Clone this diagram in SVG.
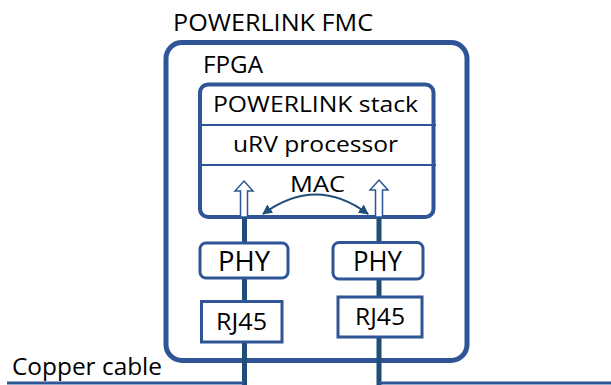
<svg xmlns="http://www.w3.org/2000/svg" width="611" height="385" viewBox="0 0 611 385">
<defs>
<style>
.t{font-family:"Open Sans","Liberation Sans",sans-serif;fill:#000}
.box{fill:#fff;stroke:#2F5597}
.wire{stroke:#1F4E79;stroke-width:5;fill:none}
.cable{stroke:#2F5597;stroke-width:3;fill:none}
.blk{fill:#fff;stroke:#2F5597;stroke-width:1.5}
</style>
<marker id="ah" viewBox="0 0 10 10" refX="9" refY="5" markerWidth="10" markerHeight="10" markerUnits="userSpaceOnUse" orient="auto-start-reverse">
<path d="M0,0 L10,5 L0,10 Z" fill="#1F4E79"/>
</marker>
</defs>
<rect width="611" height="385" fill="#fff"/>
<g id="fmc">
<rect class="box" x="166" y="42.5" width="301" height="318" rx="16" stroke-width="5"/>
<text class="t" x="173" y="31" font-size="23" textLength="200" lengthAdjust="spacingAndGlyphs">POWERLINK FMC</text>
</g>
<g id="fpga">
<rect class="box" x="200" y="84.5" width="233.5" height="132.5" rx="8" stroke-width="4"/>
<text class="t" x="203" y="73" font-size="23" textLength="60" lengthAdjust="spacingAndGlyphs">FPGA</text>
<line x1="202" y1="125" x2="436" y2="125" stroke="#2F5597" stroke-width="2"/>
<line x1="202" y1="165" x2="436" y2="165" stroke="#2F5597" stroke-width="2"/>
</g>
<g id="stack">
<text class="t" x="213" y="112" font-size="22" textLength="205" lengthAdjust="spacingAndGlyphs">POWERLINK stack</text>
</g>
<g id="urv">
<text class="t" x="233" y="152" font-size="22" textLength="165" lengthAdjust="spacingAndGlyphs">uRV processor</text>
</g>
<g id="mac">
<text class="t" x="290" y="192" font-size="22" textLength="55" lengthAdjust="spacingAndGlyphs">MAC</text>
</g>
<g id="connectors">
<path class="wire" d="M244.5,217 V385"/>
<path class="wire" d="M379,217 V385"/>
<path class="cable" d="M7,383 H244"/>
<path class="cable" d="M379,383 H611"/>
<path class="blk" d="M244,181 L253,191 L247.5,191 L247.5,217 L240.5,217 L240.5,191 L235,191 Z"/>
<path class="blk" d="M379,180 L388,190 L382.5,190 L382.5,217 L375.5,217 L375.5,190 L370,190 Z"/>
<path d="M263,214 Q316,175 368,214" fill="none" stroke="#1F4E79" stroke-width="2" marker-start="url(#ah)" marker-end="url(#ah)"/>
</g>
<g id="phy1">
<rect class="box" x="200" y="243" width="88" height="35" rx="6" stroke-width="3"/>
<text class="t" x="218" y="271" font-size="28" textLength="52" lengthAdjust="spacingAndGlyphs">PHY</text>
</g>
<g id="phy2">
<rect class="box" x="333" y="242.5" width="90" height="36.5" rx="6" stroke-width="3"/>
<text class="t" x="353" y="271" font-size="28" textLength="49" lengthAdjust="spacingAndGlyphs">PHY</text>
</g>
<g id="rj45a">
<rect class="box" x="201.5" y="301.5" width="80.5" height="40.5" stroke-width="3"/>
<text class="t" x="216" y="330" font-size="24" textLength="51" lengthAdjust="spacingAndGlyphs">RJ45</text>
</g>
<g id="rj45b">
<rect class="box" x="338" y="297" width="84" height="40" stroke-width="3"/>
<text class="t" x="355" y="325" font-size="24" textLength="50" lengthAdjust="spacingAndGlyphs">RJ45</text>
</g>
<g id="cable">
<text class="t" x="12" y="375" font-size="23" textLength="150" lengthAdjust="spacingAndGlyphs">Copper cable</text>
</g>
</svg>
